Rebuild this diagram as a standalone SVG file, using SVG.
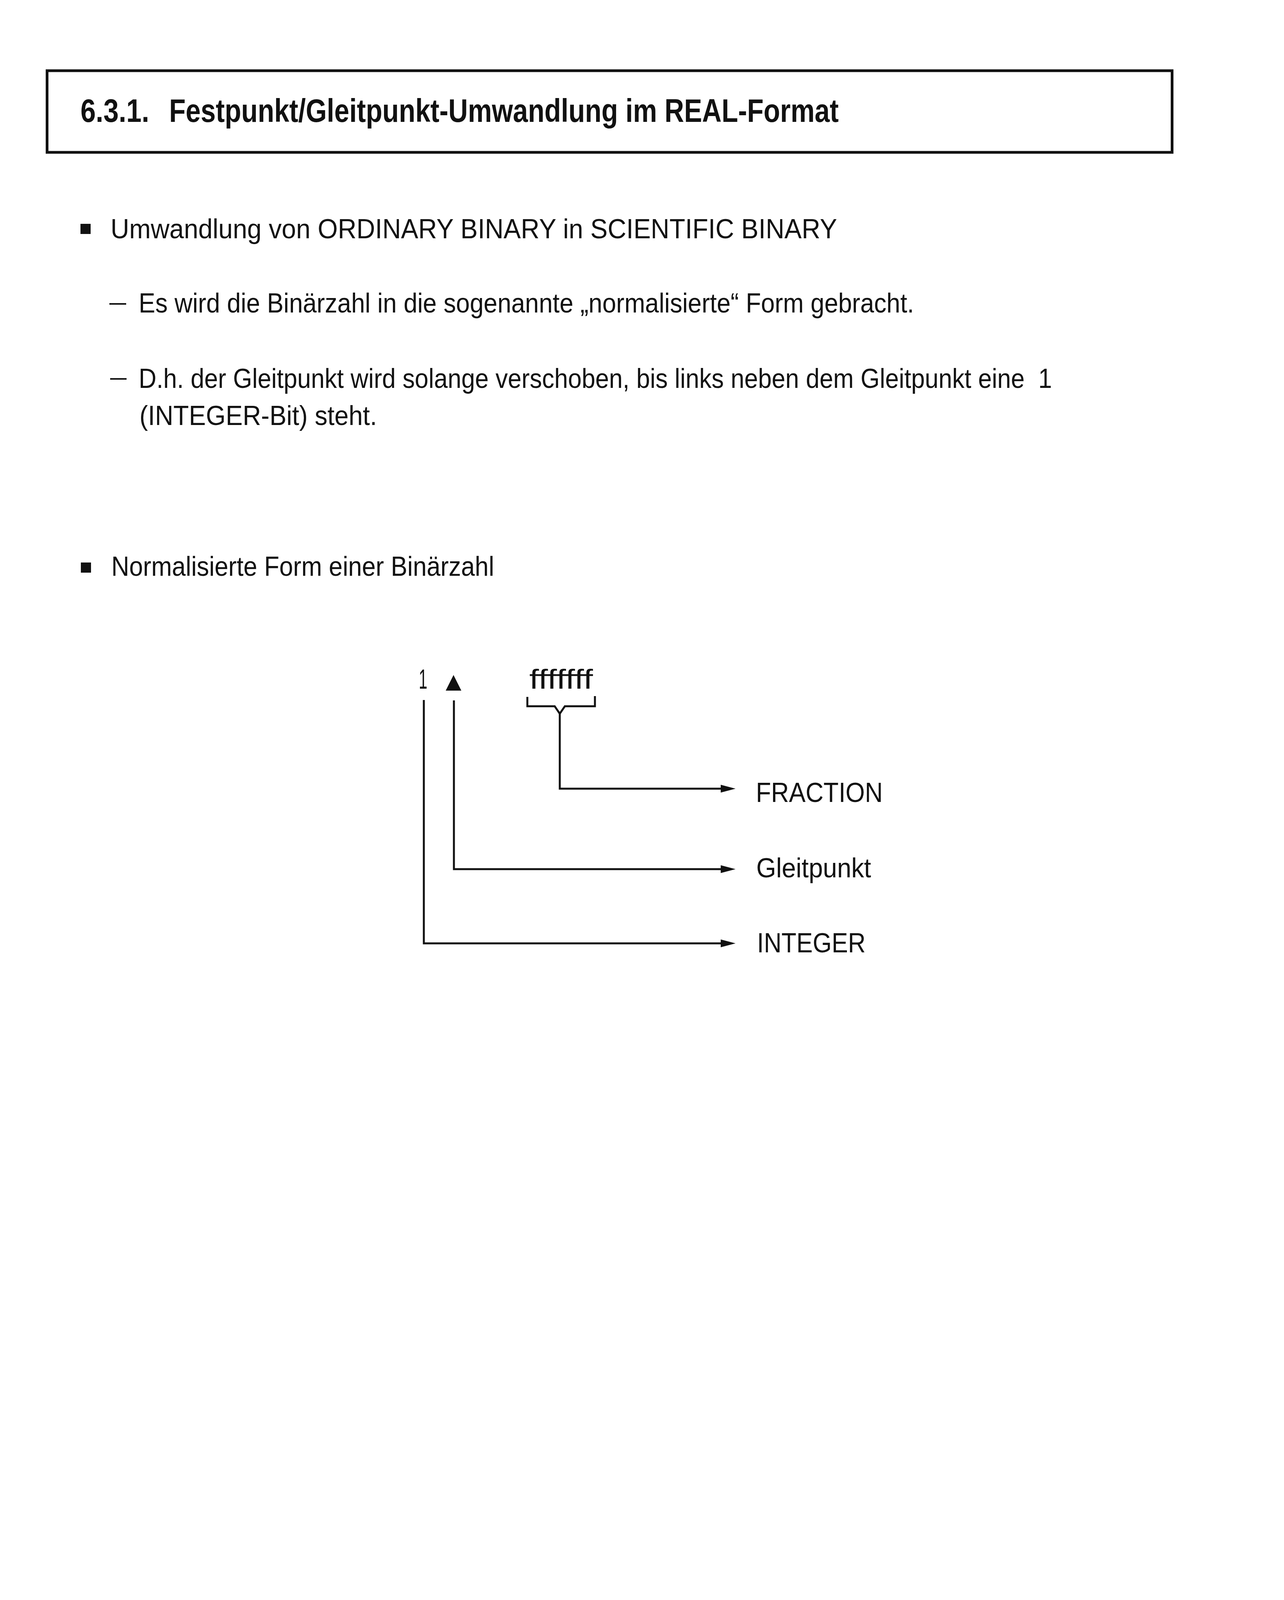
<svg xmlns="http://www.w3.org/2000/svg" width="3287" height="5048" viewBox="0 0 3287 5048">
  <style>
    .body { font-family: "Liberation Sans Narrow", "Liberation Sans", Arial, sans-serif; font-size: 71px; fill: #111; }
    .title { font-family: "Liberation Sans Narrow", "Liberation Sans", Arial, sans-serif; font-size: 84px; font-weight: bold; fill: #111; }
    .pnum { font-family: "Liberation Sans Narrow", "Liberation Sans", Arial, sans-serif; font-size: 85px; font-weight: bold; fill: #111; }
    .ln { stroke: #111; stroke-width: 5; fill: none; }
    .dash { stroke: #111; stroke-width: 4; }
  </style>
  <defs>
    <marker id="arr" markerUnits="userSpaceOnUse" markerWidth="40" markerHeight="24" refX="0" refY="11" orient="auto">
      <path d="M0,1 L38,11 L0,21 z" fill="#111"/>
    </marker>
  </defs>
  <rect width="3287" height="5048" fill="#ffffff"/>

  <g id="title-box">
    <rect x="120.5" y="181" width="2880" height="209" fill="none" stroke="#111" stroke-width="7"/>
    <text class="title" x="206" y="312" textLength="176" lengthAdjust="spacingAndGlyphs">6.3.1.</text>
    <text class="title" x="433" y="312" textLength="1714" lengthAdjust="spacingAndGlyphs">Festpunkt/Gleitpunkt-Umwandlung im REAL-Format</text>
  </g>

  <g id="bullet1">
    <rect x="206" y="573" width="26" height="26" fill="#111"/>
    <text class="body" x="283" y="610" textLength="1860" lengthAdjust="spacingAndGlyphs">Umwandlung von ORDINARY BINARY in SCIENTIFIC BINARY</text>
  </g>

  <g id="sub1">
    <line class="dash" x1="280" y1="778" x2="323" y2="778"/>
    <text class="body" x="355" y="800" textLength="1985" lengthAdjust="spacingAndGlyphs">Es wird die Binärzahl in die sogenannte „normalisierte“ Form gebracht.</text>
  </g>

  <g id="sub2">
    <line class="dash" x1="282" y1="970" x2="324" y2="970"/>
    <text class="body" x="355" y="993" textLength="2338" lengthAdjust="spacingAndGlyphs">D.h. der Gleitpunkt wird solange verschoben, bis links neben dem Gleitpunkt eine&#160; 1</text>
    <text class="body" x="357" y="1088" textLength="608" lengthAdjust="spacingAndGlyphs">(INTEGER-Bit) steht.</text>
  </g>

  <g id="bullet2">
    <rect x="207" y="1440" width="26" height="26" fill="#111"/>
    <text class="body" x="285" y="1474" textLength="980" lengthAdjust="spacingAndGlyphs">Normalisierte Form einer Binärzahl</text>
  </g>

  <g id="node-integer-bit">
    <text class="body" x="1072" y="1763" textLength="22" lengthAdjust="spacingAndGlyphs">1</text>
  </g>
  <g id="node-point">
    <polygon points="1141,1768 1181,1768 1161,1728" fill="#111"/>
  </g>
  <g id="node-fraction-bits">
    <text class="body" x="1355" y="1763" textLength="163" lengthAdjust="spacingAndGlyphs">fffffff</text>
    <path class="ln" d="M1350,1784 L1350,1808 L1420,1808 L1433,1827 L1446,1808 L1523,1808 L1523,1782"/>
  </g>

  <g id="connectors">
    <path class="ln" d="M1433,1827 L1433,2019 L1845,2019" marker-end="url(#arr)"/>
    <path class="ln" d="M1162,1793 L1162,2225 L1845,2225" marker-end="url(#arr)"/>
    <path class="ln" d="M1085,1792 L1085,2415 L1845,2415" marker-end="url(#arr)"/>
  </g>

  <g id="label-fraction">
    <text class="body" x="1935" y="2053" textLength="325" lengthAdjust="spacingAndGlyphs">FRACTION</text>
  </g>
  <g id="label-gleitpunkt">
    <text class="body" x="1936" y="2246" textLength="294" lengthAdjust="spacingAndGlyphs">Gleitpunkt</text>
  </g>
  <g id="label-integer">
    <text class="body" x="1938" y="2438" textLength="278" lengthAdjust="spacingAndGlyphs">INTEGER</text>
  </g>

  <g id="page-number">
    <text class="pnum" x="2876" y="4798" textLength="114" lengthAdjust="spacingAndGlyphs">115</text>
  </g>
</svg>
